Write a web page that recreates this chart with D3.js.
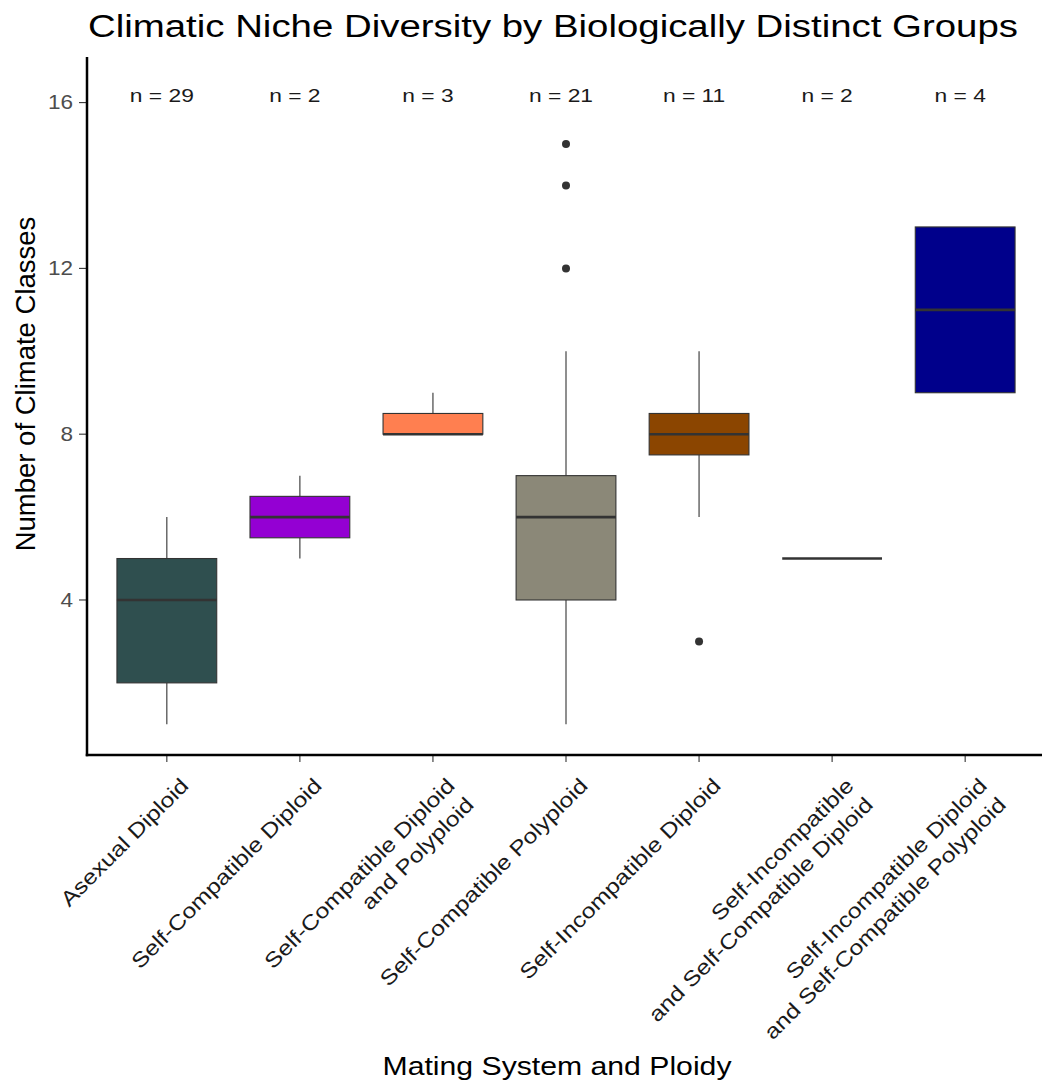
<!DOCTYPE html>
<html>
<head>
<meta charset="utf-8">
<script src="https://cdn.jsdelivr.net/npm/d3@7"></script>
<style>
  html, body { margin: 0; padding: 0; background: #ffffff; }
  svg { display: block; font-family: "Liberation Sans", Arial, sans-serif; }
</style>
</head>
<body>
<svg id="chart" width="1042" height="1084"></svg>
<script>
// Mating system / ploidy groups and their box-plot summaries
const categories = [
  "Asexual Diploid",
  "Self-Compatible Diploid",
  "Self-Compatible Diploid\nand Polyploid",
  "Self-Compatible Polyploid",
  "Self-Incompatible Diploid",
  "Self-Incompatible\nand Self-Compatible Diploid",
  "Self-Incompatible Diploid\nand Self-Compatible Polyploid"
];
const sampleSizes  = [29, 2, 3, 21, 11, 2, 4];
const whiskerLow   = [1, 5, 8, 1, 6, 5, 9];
const lowerQuart   = [2, 5.5, 8, 4, 7.5, 5, 9];
const medians      = [4, 6, 8, 6, 8, 5, 11];
const upperQuart   = [5, 6.5, 8.5, 7, 8.5, 5, 13];
const whiskerHigh  = [6, 7, 9, 10, 10, 5, 13];
const outliers     = [[], [], [], [12, 14, 15], [3], [], []];
const fills        = ["#2F4F4F", "#9400D3", "#FF7F50", "#8B8878", "#8B4500", "#FFFFFF", "#00008B"];
const yTicks       = [4, 8, 12, 16];
const countLabelY  = 16.17;

const svg = d3.select("#chart");

// Panel geometry
const panel = { left: 87, right: 1045, top: 57, bottom: 755 };
// Text in this figure is set slightly wide
const wide = 1.2;

const x = d3.scaleBand()
  .domain(categories)
  .range([panel.left, panel.right])
  .paddingInner(0)
  .paddingOuter(0.1);

const y = d3.scaleLinear()
  .domain([0.26, 17.1])
  .range([panel.bottom, panel.top]);

const cx = c => x(c) + x.bandwidth() / 2;
const boxW = x.bandwidth() * 0.75;
const ink = "#333333";

const rows = categories.map((c, i) => ({
  cat: c, n: sampleSizes[i], lo: whiskerLow[i], q1: lowerQuart[i],
  med: medians[i], q3: upperQuart[i], hi: whiskerHigh[i],
  out: outliers[i], fill: fills[i]
}));

const g = svg.append("g");

// Whiskers
g.selectAll("line.whisker-low").data(rows).join("line")
  .attr("x1", d => cx(d.cat)).attr("x2", d => cx(d.cat))
  .attr("y1", d => y(d.lo)).attr("y2", d => y(d.q1))
  .attr("stroke", ink).attr("stroke-width", 1.1);
g.selectAll("line.whisker-high").data(rows).join("line")
  .attr("x1", d => cx(d.cat)).attr("x2", d => cx(d.cat))
  .attr("y1", d => y(d.q3)).attr("y2", d => y(d.hi))
  .attr("stroke", ink).attr("stroke-width", 1.1);

// Boxes
g.selectAll("rect.box").data(rows).join("rect")
  .attr("x", d => cx(d.cat) - boxW / 2)
  .attr("width", boxW)
  .attr("y", d => y(d.q3))
  .attr("height", d => y(d.q1) - y(d.q3))
  .attr("fill", d => d.fill)
  .attr("stroke", ink).attr("stroke-width", 1.1);

// Medians
g.selectAll("line.median").data(rows).join("line")
  .attr("x1", d => cx(d.cat) - boxW / 2).attr("x2", d => cx(d.cat) + boxW / 2)
  .attr("y1", d => y(d.med)).attr("y2", d => y(d.med))
  .attr("stroke", ink).attr("stroke-width", 2.6);

// Outliers
const outPts = rows.flatMap(d => d.out.map(v => ({ cat: d.cat, v })));
g.selectAll("circle.out").data(outPts).join("circle")
  .attr("cx", d => cx(d.cat)).attr("cy", d => y(d.v))
  .attr("r", 4).attr("fill", ink);

// Sample size labels
g.selectAll("text.n").data(rows).join("text")
  .attr("transform", d => `translate(${cx(d.cat) - 5},${y(countLabelY)}) scale(${wide},1)`)
  .attr("text-anchor", "middle").attr("dominant-baseline", "central")
  .attr("font-size", 19).attr("fill", "#1a1a1a")
  .text(d => `n = ${d.n}`);

// Y axis
const yAxis = svg.append("g");
yAxis.selectAll("line.tick").data(yTicks).join("line")
  .attr("x1", panel.left - 8).attr("x2", panel.left)
  .attr("y1", d => y(d)).attr("y2", d => y(d))
  .attr("stroke", ink).attr("stroke-width", 1.1);
yAxis.selectAll("text").data(yTicks).join("text")
  .attr("transform", d => `translate(${panel.left - 14},${y(d)}) scale(1.1,1)`)
  .attr("text-anchor", "end").attr("dominant-baseline", "central")
  .attr("font-size", 20.5).attr("fill", "#4D4D4D")
  .text(d => d);

// X axis ticks
const xAxis = svg.append("g");
xAxis.selectAll("line.tick").data(categories).join("line")
  .attr("x1", d => cx(d)).attr("x2", d => cx(d))
  .attr("y1", panel.bottom).attr("y2", panel.bottom + 7)
  .attr("stroke", ink).attr("stroke-width", 1.1);

// Rotated category labels, right-aligned, one tspan per line
const lineH = 27;
const labels = xAxis.selectAll("text.cat").data(categories).join("text")
  .attr("transform", d => `translate(${cx(d) + 23},${panel.bottom + 32}) rotate(-45) scale(1.18,1)`)
  .attr("text-anchor", "end")
  .attr("font-size", 21).attr("fill", "#1a1a1a");
labels.each(function(d) {
  const t = d3.select(this);
  d.split("\n").forEach((line, i) => {
    t.append("tspan").attr("x", 0).attr("y", i * lineH).text(line);
  });
});

// Axis lines
svg.append("line")
  .attr("x1", panel.left).attr("x2", panel.left)
  .attr("y1", panel.top).attr("y2", panel.bottom + 1.25)
  .attr("stroke", "#000").attr("stroke-width", 2.5);
svg.append("line")
  .attr("x1", panel.left - 1.25).attr("x2", 1042)
  .attr("y1", panel.bottom).attr("y2", panel.bottom)
  .attr("stroke", "#000").attr("stroke-width", 2.5);

// Titles
svg.append("text")
  .attr("x", 88).attr("y", 37)
  .attr("font-size", 31).attr("fill", "#000")
  .attr("textLength", 930).attr("lengthAdjust", "spacingAndGlyphs")
  .text("Climatic Niche Diversity by Biologically Distinct Groups");

svg.append("text")
  .attr("x", 557).attr("y", 1075)
  .attr("text-anchor", "middle")
  .attr("font-size", 26).attr("fill", "#000")
  .attr("textLength", 349).attr("lengthAdjust", "spacingAndGlyphs")
  .text("Mating System and Ploidy");

svg.append("text")
  .attr("transform", "translate(35,384) rotate(-90)")
  .attr("text-anchor", "middle")
  .attr("font-size", 27.5).attr("fill", "#000")
  .text("Number of Climate Classes");
</script>
</body>
</html>
